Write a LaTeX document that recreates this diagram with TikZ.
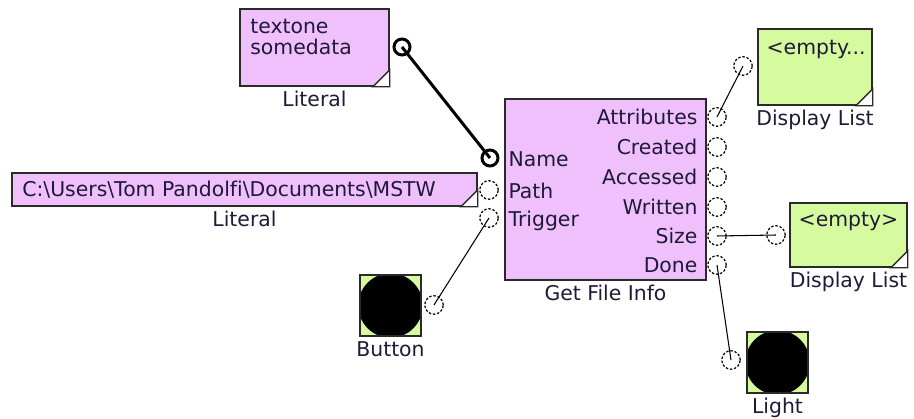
\documentclass[tikz,border=0pt]{standalone}
\usepackage{fontspec}
\setmainfont{DejaVu Sans}[Ligatures=CommonOff]
\usepackage{xcolor}
\usetikzlibrary{positioning}

\definecolor{blkpink}{HTML}{F0C0FC}
\definecolor{dispgreen}{HTML}{D6FA9E}
\definecolor{edge}{HTML}{2A2A2A}
\definecolor{txt}{HTML}{1E1A38}

% white dog-ear in the lower right corner of a block
\newcommand{\fold}[1]{%
  \filldraw[fill=white, draw=edge, line width=0.8pt]
    ([xshift=-0.34cm]#1.south east) -- (#1.south east)
    -- ([yshift=0.34cm]#1.south east) -- cycle;}

\begin{document}
\begin{tikzpicture}[
  x=0.02cm, y=-0.02cm,
  font=\fontsize{11.6}{11.6}\selectfont, text=txt,
  blk/.style={
    draw=edge, line width=0.9pt, fill=blkpink, inner sep=0pt
  },
  disp/.style={
    draw=edge, line width=0.9pt, fill=dispgreen, inner sep=0pt
  },
  lamp/.style={
    draw=edge, line width=0.9pt, fill=dispgreen, inner sep=0pt,
    minimum size=1.22cm,
    path picture={\fill[black] (path picture bounding box.center) circle (0.645cm);}
  },
  port/.style={
    circle, draw=black, fill=white, line width=0.7pt,
    dash pattern=on 1.4pt off 1pt,
    minimum size=0.37cm, inner sep=0pt
  },
  bport/.style={
    circle, draw=black, fill=white, line width=1.7pt,
    minimum size=0.32cm, inner sep=0pt
  },
  wire/.style={draw=black, line width=0.6pt},
  link/.style={draw=black, line width=1.7pt},
  lbl/.style={inner sep=0pt, text height=8pt, text depth=2pt},
  pinl/.style={inner sep=0pt, anchor=base west, xshift=0.08cm, yshift=-0.18cm},
  pinr/.style={inner sep=0pt, anchor=base east, xshift=-0.18cm, yshift=-0.15cm},
]
\useasboundingbox (0,0) rectangle (914,419);

% blocks
\node[blk, minimum width=2.98cm, minimum height=1.54cm] (lit1)  at (314.5,47.5)  {};
\node[blk, minimum width=9.3cm,  minimum height=0.66cm] (lit2)  at (244.5,189.5) {};
\node[blk, minimum width=4.02cm, minimum height=3.62cm] (gfi)   at (605.5,189.5) {};
\node[disp, minimum width=2.28cm, minimum height=1.52cm] (dl1)  at (815,67)      {};
\node[disp, minimum width=2.34cm, minimum height=1.28cm] (dl2)  at (848.5,235)   {};
\node[lamp] (btn)   at (390.5,305.5) {};
\node[lamp] (light) at (777.5,362.5) {};

\fold{lit1}
\fold{lit2}
\fold{dl1}
\fold{dl2}

% contents
\node[anchor=north west, inner sep=0pt, align=left] (lit1txt) at (250,19) {textone\\somedata};
\node[anchor=base west, inner sep=0pt] (lit2txt) at (22,196)
  {C:\textbackslash Users\textbackslash Tom Pandolfi\textbackslash Documents\textbackslash MSTW};
\node[anchor=base east, inner sep=0pt] (dl1txt) at (866,54)    {<empty...};
\node[anchor=base, inner sep=0pt]      (dl2txt) at (848.5,226) {<empty>};

% names under the blocks
\node[lbl, below=3pt of lit1]  (lit1lbl)  {Literal};
\node[lbl, below=3pt of lit2]  (lit2lbl)  {Literal};
\node[lbl, below=3pt of gfi]   (gfilbl)   {Get File Info};
\node[lbl, below=3pt of dl1]   (dl1lbl)   {Display List};
\node[lbl, below=3pt of dl2]   (dl2lbl)   {Display List};
\node[lbl, below=3pt of btn]   (btnlbl)   {Button};
\node[lbl, below=3pt of light] (lightlbl) {Light};

% ports
\node[bport] (lit1out)   at (402,47)  {};
\node[bport] (pname)     at (490,158) {};
\node[port]  (ppath)     at (489,190) {};
\node[port]  (ptrig)     at (489,218) {};
\node[port]  (pattr)     at (717,117) {};
\node[port]  (pcreated)  at (717,147) {};
\node[port]  (paccessed) at (717,177) {};
\node[port]  (pwritten)  at (717,207) {};
\node[port]  (psize)     at (717,236) {};
\node[port]  (pdone)     at (717,265) {};
\node[port]  (btnout)    at (434,305) {};
\node[port]  (dl1in)     at (743,66)  {};
\node[port]  (dl2in)     at (776,235) {};
\node[port]  (lightin)   at (731,360) {};

% port names
\node[pinl] (lname)  at (gfi.west |- pname) {Name};
\node[pinl] (lpath)  at (gfi.west |- ppath) {Path};
\node[pinl] (ltrig)  at (gfi.west |- ptrig) {Trigger};
\node[pinr] (lattr)  at (gfi.east |- pattr)     {Attributes};
\node[pinr] (lcre)   at (gfi.east |- pcreated)  {Created};
\node[pinr] (lacc)   at (gfi.east |- paccessed) {Accessed};
\node[pinr] (lwri)   at (gfi.east |- pwritten)  {Written};
\node[pinr] (lsize)  at (gfi.east |- psize)     {Size};
\node[pinr] (ldone)  at (gfi.east |- pdone)     {Done};

% wires
\draw[link] (lit1out.center) -- (pname.center);
\draw[wire] (btnout.center)  -- (ptrig.center);
\draw[wire] (pattr.center)   -- (dl1in.center);
\draw[wire] (psize.center)   -- (dl2in.center);
\draw[wire] (pdone.center)   -- (lightin.center);

\end{tikzpicture}
\end{document}
